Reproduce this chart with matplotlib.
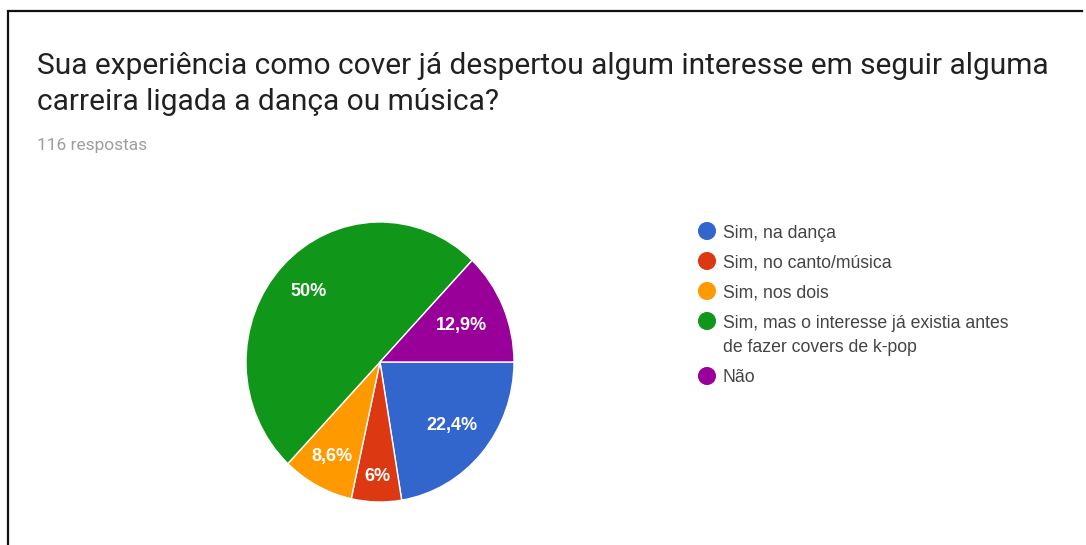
import matplotlib
matplotlib.use("Agg")
import matplotlib.pyplot as plt
import numpy as np

# Survey responses (116 total)
categories = [
    "Sim, na dança",
    "Sim, no canto/música",
    "Sim, nos dois",
    "Sim, mas o interesse já existia antes\nde fazer covers de k-pop",
    "Não",
]
counts = [26, 7, 10, 58, 15]
pct_labels = ["22,4%", "6%", "8,6%", "50%", "12,9%"]
colors = ["#3366cc", "#dc3912", "#ff9900", "#109618", "#990099"]

title_lines = ["Sua experiência como cover já despertou algum interesse em seguir alguma",
               "carreira ligada a dança ou música?"]
subtitle = "116 respostas"

W, H = 1086, 545
fig = plt.figure(figsize=(W / 100, H / 100), dpi=100)
fig.patch.set_facecolor("white")

# overlay axes in pixel units (origin top-left) for the card decoration and legend
over = fig.add_axes([0, 0, 1, 1])
over.set_xlim(0, W)
over.set_ylim(H, 0)
over.axis("off")

# card border (left and top edges)
over.plot([8, 8, 1082], [H + 5, 11, 11], color="#111111", lw=1.6, solid_joinstyle="miter")

for i, line in enumerate(title_lines):
    over.text(37, 74 + 36 * i, line, family="Roboto", fontsize=21.5, color="#212121",
              va="baseline", ha="left")
over.text(37, 150, subtitle, family="Roboto", fontsize=12.5, color="#9e9e9e",
          va="baseline", ha="left")

# pie area: slightly taller than wide
cx, cy, rx, ry = 380, 362, 134, 140
ax = fig.add_axes([(cx - rx) / W, (H - cy - ry) / H, 2 * rx / W, 2 * ry / H])
wedges, _ = ax.pie(counts, colors=colors, startangle=0, counterclock=False,
                   wedgeprops=dict(edgecolor="white", linewidth=1.0))
ax.set_xlim(-1, 1)
ax.set_ylim(-1, 1)
ax.set_aspect("auto")
ax.axis("off")

# percentage labels placed inside each wedge
label_radius = [0.70, 0.82, 0.76, 0.73, 0.66]
for w, txt, rad in zip(wedges, pct_labels, label_radius):
    ang = np.deg2rad((w.theta1 + w.theta2) / 2)
    ax.text(rad * np.cos(ang), rad * np.sin(ang), txt, ha="center", va="center",
            color="white", fontsize=13, fontweight="bold", family="Liberation Sans")

# legend: coloured dots with labels, one row per category
row_y = 231
line_step = 25
row_gap = 30
for cat, c in zip(categories, colors):
    lines = cat.split("\n")
    over.scatter([707], [row_y], s=13 ** 2, color=c, edgecolors="none")
    for j, ln in enumerate(lines):
        over.text(723, row_y + line_step * j, ln, family="Liberation Sans", fontsize=12.7,
                  color="#444444", ha="left", va="center_baseline")
    row_y += row_gap + line_step * (len(lines) - 1)

fig.savefig("out.png", dpi=100, facecolor="white")
